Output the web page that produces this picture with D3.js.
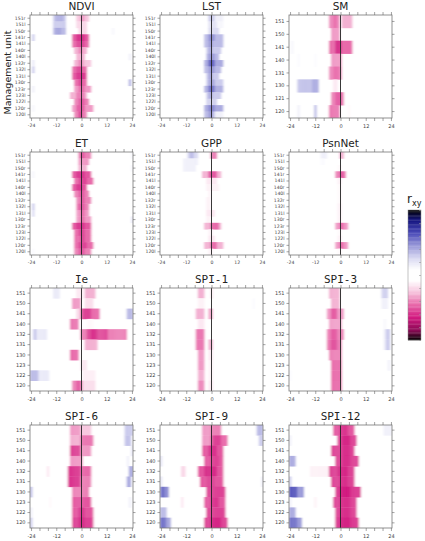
<!DOCTYPE html>
<html>
<head>
<meta charset="utf-8">
<script src="https://cdn.jsdelivr.net/npm/d3@7"></script>
<style>
  body { margin: 0; background: #fff; }
  text { font-family: "DejaVu Sans", sans-serif; }
</style>
</head>
<body>
<div id="chart"></div>
<script>
// lags in months, -24 .. 24
const lags = d3.range(-24, 25)
const lagTicks = d3.range(-24, 25, 4)
const lagLabels = [-24, -12, 0, 12, 24]

// management units (rows, top to bottom)
const unitsLR = ['151r', '151l', '150r', '141r', '141l', '140r', '140l', '132r',
  '132l', '131l', '130r', '123r', '123l', '122l', '120r', '120l']
const units = ['151', '150', '141', '140', '132', '131', '130', '123', '122', '120']
const unitsSM = ['151', '150', '141', '140', '131', '130', '121', '120']

const legendTicks = d3.range(-1, 1.01, 0.2)

// each row: list of [fromLag, toLag, r]; later segments overwrite earlier ones
const ndvi = [
  [[-13, -8, 0.3], [-12, -9, 0.38], [-2, 3, -0.25], [0, 1, -0.35]],
  [[-13, -8, 0.3], [-2, 2, -0.2]],
  [[-13, -8, 0.35], [-12, -10, 0.42], [-1, 2, -0.2], [15, 15, 0.12]],
  [[-23, -23, 0.3], [-4, 3, -0.5], [-2, 1, -0.62]],
  [[-4, 3, -0.45], [-2, 1, -0.55]],
  [[-3, 2, -0.3], [-1, 0, -0.4]],
  [[-2, 1, -0.3], [23, 23, 0.15]],
  [[-23, -23, 0.18], [-3, 4, -0.3], [2, 4, -0.25], [-1, 0, -0.4]],
  [[-23, -23, 0.3], [-4, 2, -0.45], [-2, 0, -0.55]],
  [[-4, 2, -0.5], [-2, 1, -0.6]],
  [[-3, 2, -0.45], [23, 23, 0.4], [-1, 0, -0.55]],
  [[-23, -23, 0.15], [-3, 4, -0.35], [-1, 1, -0.45]],
  [[-5, 2, -0.3], [-2, 1, -0.42]],
  [[-3, 3, -0.4], [-1, 1, -0.5]],
  [[-23, -23, 0.12], [-4, 5, -0.35], [-2, 1, -0.5]],
  [[-3, 2, -0.4], [-1, 0, -0.55]]
]

const lst = [
  [[-1, 1, 0.3], [2, 5, 0.15]],
  [[-1, 2, 0.22], [3, 5, 0.12]],
  [[-1, 3, 0.25]],
  [[-3, 5, 0.35], [-1, 1, 0.48]],
  [[-3, 5, 0.35], [-1, 0, 0.45]],
  [[-2, 4, 0.3], [-1, 0, 0.4]],
  [[-2, 3, 0.35], [-1, 1, 0.45]],
  [[-3, 5, 0.4], [-1, 1, 0.6]],
  [[-3, 4, 0.35], [-1, 1, 0.45]],
  [[-2, 3, 0.3], [-1, 0, 0.42]],
  [[-2, 5, 0.3], [-1, 1, 0.42]],
  [[-3, 5, 0.38], [-1, 1, 0.55]],
  [[-2, 4, 0.3], [-1, 0, 0.4]],
  [[-2, 2, 0.28]],
  [[-3, 5, 0.4], [-1, 1, 0.5]],
  [[-3, 1, 0.35], [-1, 0, 0.45], [2, 5, 0.15]]
]

const sm = [
  [[-5, -1, -0.38], [1, 5, -0.3], [-3, -2, -0.45]],
  [[-4, -1, -0.35]],
  [[-23, -23, 0.12], [-5, 5, -0.45], [-2, 0, -0.62]],
  [[-20, -20, 0.1], [-12, -12, 0.1], [-4, 0, -0.35]],
  [[-5, 0, -0.38], [-3, -1, -0.45]],
  [[-20, -11, 0.32], [-13, -11, 0.4], [-3, -2, -0.15]],
  [[-4, 1, -0.4], [-2, 0, -0.5]],
  [[-20, -20, 0.15], [-12, -12, 0.35], [-5, -1, -0.42], [4, 4, -0.1]]
]

const et = [
  [[-1, 4, -0.4], [0, 1, -0.5], [24, 24, 0.12]],
  [[-1, 3, -0.35]],
  [[-1, 2, -0.3], [24, 24, 0.12]],
  [[-4, 4, -0.5], [-2, 1, -0.6], [-23, -23, 0.12]],
  [[-3, 5, -0.45], [-1, 2, -0.55]],
  [[-4, 2, -0.5], [-2, 0, -0.6]],
  [[-3, 3, -0.4], [-1, 1, -0.5]],
  [[-2, 4, -0.4], [0, 1, -0.5]],
  [[-23, -23, 0.3], [-2, 3, -0.4], [-1, 1, -0.5]],
  [[-23, -23, 0.25], [-2, 3, -0.35], [0, 1, -0.45]],
  [[-2, 4, -0.35], [0, 1, -0.45], [24, 24, 0.18]],
  [[-4, 4, -0.5], [-2, 1, -0.6]],
  [[-3, 4, -0.45], [-1, 1, -0.55]],
  [[-3, 4, -0.45], [0, 1, -0.55]],
  [[-3, 5, -0.45], [-1, 2, -0.55]],
  [[-3, 4, -0.4], [-1, 1, -0.5], [-23, -23, 0.1]]
]

const gpp = [
  [[-11, -7, 0.25], [-10, -9, 0.35], [0, 2, -0.4]],
  [[-13, -7, 0.15]],
  [[-13, -8, 0.15]],
  [[-4, 4, -0.3], [-1, 2, -0.5]],
  [[-2, 2, -0.15]],
  [[-2, 3, -0.12]],
  [[-1, -1, -0.12]],
  [[-2, -1, -0.12]],
  [[-2, -1, -0.12]],
  [[-2, 1, -0.15]],
  [[-2, -1, -0.12]],
  [[-3, 4, -0.3], [0, 3, -0.45]],
  [[-1, 0, -0.12]],
  [[-1, 1, -0.15]],
  [[-3, 5, -0.3], [0, 2, -0.45]],
  [[-1, 0, -0.12]]
]

const psn = [
  [[-9, -7, 0.15], [0, 1, -0.3]],
  [[-9, -8, 0.1]],
  [[-1, 0, -0.1]],
  [[-2, 2, -0.4], [0, 1, -0.5]],
  [[-1, 0, -0.12]],
  [[-1, 0, -0.1]],
  [[-1, 0, -0.1]],
  [[-1, 0, -0.1]],
  [[-1, 0, -0.12]],
  [[-1, 0, -0.12]],
  [[-1, 0, -0.12]],
  [[-2, 3, -0.35], [0, 1, -0.45]],
  [[-1, 0, -0.1]],
  [[-1, 0, -0.12]],
  [[-2, 3, -0.35], [0, 1, -0.45]],
  [[-1, 0, -0.1]]
]

const ie = [
  [[-13, -11, 0.18], [-2, 0, -0.15], [2, 6, -0.3]],
  [[-4, -1, -0.35], [2, 5, -0.18]],
  [[-2, -1, -0.2], [0, 8, -0.45], [1, 4, -0.55], [22, 24, 0.35]],
  [[-5, -2, -0.42], [3, 5, -0.1]],
  [[-23, -17, 0.18], [-22, -22, 0.35], [0, 21, -0.4], [3, 12, -0.52], [5, 7, -0.6]],
  [[2, 7, -0.3]],
  [[-5, -2, -0.45], [24, 24, 0.1]],
  [[0, 2, -0.15], [18, 18, -0.08]],
  [[-24, -21, 0.35], [-20, -16, 0.18], [1, 6, -0.13]],
  [[-4, 0, -0.4], [-2, -1, -0.5], [1, 6, -0.18]]
]

const spi1 = [
  [[-6, -4, -0.3], [0, 0, -0.15]],
  [[-6, -4, -0.12], [20, 20, 0.1]],
  [[-7, -4, -0.3], [-1, 0, -0.32]],
  [[-6, -4, -0.15]],
  [[-7, -4, -0.42]],
  [[-7, -4, -0.42], [-1, 0, -0.3]],
  [[-6, -4, -0.35], [-1, 0, -0.15]],
  [[-6, -4, -0.35], [-1, 0, -0.12]],
  [[-6, -4, -0.3], [-1, 0, -0.12]],
  [[-6, -4, -0.38], [-1, 0, -0.15]]
]

const spi3 = [
  [[-5, -1, -0.3], [20, 22, 0.28]],
  [[-4, -1, -0.3], [20, 22, 0.15]],
  [[-6, 1, -0.35], [-4, -2, -0.5]],
  [[-5, 0, -0.33], [21, 21, 0.12]],
  [[-6, 1, -0.4], [-4, -2, -0.5], [21, 21, 0.15], [22, 23, 0.3]],
  [[-6, 0, -0.42], [-4, -2, -0.52], [21, 21, 0.15], [22, 23, 0.3]],
  [[-5, 0, -0.4]],
  [[-4, 0, -0.45], [23, 23, 0.15]],
  [[-24, -24, 0.1], [-4, 0, -0.45]],
  [[-4, 0, -0.45]]
]

const spi6 = [
  [[-5, -1, -0.35], [0, 4, -0.25], [21, 24, 0.3]],
  [[-5, -1, -0.3], [0, 5, -0.42], [21, 23, 0.32]],
  [[-5, -1, -0.55], [0, 4, -0.35], [24, 24, 0.2]],
  [[-5, 0, -0.35], [22, 22, 0.15]],
  [[-16, -16, -0.15], [-6, -1, -0.58], [0, 4, -0.45], [23, 24, 0.4]],
  [[-6, -1, -0.58], [0, 4, -0.4], [22, 23, 0.4]],
  [[-24, -24, 0.35], [-4, 3, -0.4]],
  [[-15, -15, -0.1], [-4, 4, -0.5], [23, 23, 0.15]],
  [[-24, -24, 0.15], [-4, 5, -0.5], [-1, 1, -0.58]],
  [[-24, -24, 0.3], [-4, 5, -0.55], [-1, 1, -0.62]]
]

const spi9 = [
  [[-4, -1, -0.35], [0, 4, -0.4], [22, 24, 0.35]],
  [[-4, -1, -0.35], [0, 7, -0.45], [1, 4, -0.55], [23, 24, 0.3]],
  [[-4, 5, -0.5], [-1, 2, -0.6]],
  [[-24, -24, 0.2], [-3, 5, -0.5], [0, 3, -0.55]],
  [[-14, -13, -0.2], [-6, 5, -0.5], [-3, 2, -0.62]],
  [[-24, -24, 0.2], [-5, 5, -0.5], [24, 24, 0.15], [-2, 1, -0.55]],
  [[-24, -21, 0.5], [-23, -23, 0.6], [-2, 6, -0.55]],
  [[-14, -14, -0.15], [-3, 6, -0.5], [0, 3, -0.58]],
  [[-24, -22, 0.35], [-2, 6, -0.55]],
  [[-24, -20, 0.42], [-24, -22, 0.55], [-3, 7, -0.55], [0, 4, -0.62]]
]

const spi12 = [
  [[-3, 6, -0.5], [0, 3, -0.58], [21, 24, 0.15]],
  [[-24, -24, 0.15], [-1, 7, -0.55], [1, 4, -0.62]],
  [[-4, 6, -0.55], [1, 4, -0.6]],
  [[-24, -22, 0.4], [-2, 8, -0.55], [1, 4, -0.6]],
  [[-14, -6, -0.12], [-5, 6, -0.55], [-1, 3, -0.62]],
  [[-24, -24, 0.3], [-4, 6, -0.55], [0, 3, -0.6]],
  [[-24, -18, 0.45], [-24, -21, 0.62], [-2, 9, -0.58], [0, 4, -0.65]],
  [[-24, -24, 0.15], [-12, -12, -0.12], [-3, 7, -0.55], [0, 4, -0.6]],
  [[-24, -22, 0.4], [-2, 7, -0.55], [0, 4, -0.6]],
  [[-24, -19, 0.45], [-24, -21, 0.55], [-2, 8, -0.58], [0, 4, -0.63]]
]

const panels = [
  { title: 'NDVI', rows: unitsLR, data: ndvi },
  { title: 'LST', rows: unitsLR, data: lst },
  { title: 'SM', rows: unitsSM, data: sm },
  { title: 'ET', rows: unitsLR, data: et },
  { title: 'GPP', rows: unitsLR, data: gpp },
  { title: 'PsnNet', rows: unitsLR, data: psn },
  { title: 'Ie', rows: units, data: ie, mono: true },
  { title: 'SPI-1', rows: units, data: spi1, mono: true },
  { title: 'SPI-3', rows: units, data: spi3, mono: true },
  { title: 'SPI-6', rows: units, data: spi6, mono: true },
  { title: 'SPI-9', rows: units, data: spi9, mono: true },
  { title: 'SPI-12', rows: units, data: spi12, mono: true }
]

const W = 425
const H = 541
const colX = [30, 160, 289]
const rowY = [15, 152, 288, 425]
const pw = 103
const ph = 103

// cell colour: magenta for negative r, blue for positive r
const color = d3.scaleLinear()
  .domain([-1, -0.85, -0.65, -0.45, -0.25, -0.08, 0.08, 0.25, 0.45, 0.65, 0.85, 1])
  .range(['#000000', '#8a0a55', '#d21a80', '#e86aaa', '#f7c8df', '#ffffff',
    '#ffffff', '#dcdcf3', '#9a9ad9', '#4a4ab8', '#14147e', '#000000'])
  .clamp(true)

const svg = d3.select('#chart')
  .append('svg')
  .attr('width', W)
  .attr('height', H)

// soften the cell edges a little, as in the original raster
const defs = svg.append('defs')
defs.append('filter')
  .attr('id', 'soft')
  .attr('x', 0).attr('y', 0).attr('width', 1).attr('height', 1)
  .append('feGaussianBlur')
  .attr('stdDeviation', '0.8 0.25')
defs.append('clipPath')
  .attr('id', 'panelClip')
  .append('rect')
  .attr('width', pw).attr('height', ph)

const xScale = d3.scaleLinear().domain([-24.5, 24.5]).range([0, pw])

panels.forEach((p, i) => {
  const g = svg.append('g')
    .attr('transform', 'translate(' + colX[i % 3] + ',' + rowY[Math.floor(i / 3)] + ')')

  const yScale = d3.scaleBand().domain(p.rows).range([0, ph])

  // expand segments into cells
  const cells = []
  p.data.forEach((segs, r) => {
    const vals = {}
    segs.forEach(s => {
      for (let l = s[0]; l <= s[1]; l++) vals[l] = s[2]
    })
    lags.forEach(l => {
      if (vals[l] !== undefined) cells.push({ row: p.rows[r], lag: l, r: vals[l] })
    })
  })

  const cg = g.append('g')
    .attr('clip-path', 'url(#panelClip)')
    .append('g')
    .attr('filter', 'url(#soft)')

  cg.append('rect')
    .attr('width', pw).attr('height', ph)
    .attr('fill', '#fff')

  cg.selectAll('.cell')
    .data(cells)
    .enter()
    .append('rect')
    .attr('class', 'cell')
    .attr('x', d => xScale(d.lag - 0.5))
    .attr('width', xScale(1) - xScale(0) + 0.3)
    .attr('y', d => yScale(d.row))
    .attr('height', yScale.bandwidth() + 0.3)
    .attr('fill', d => color(d.r))

  // zero lag line
  g.append('line')
    .attr('x1', xScale(0)).attr('x2', xScale(0))
    .attr('y1', 0).attr('y2', ph)
    .attr('stroke', '#222')
    .attr('stroke-width', 0.9)

  g.append('rect')
    .attr('width', pw).attr('height', ph)
    .attr('fill', 'none')
    .attr('stroke', '#777')
    .attr('stroke-width', 0.8)

  const fs = p.rows.length > 10 ? 4.6 : 5

  const xBottom = d3.axisBottom(xScale).tickValues(lagTicks).tickSize(3)
    .tickFormat(d => lagLabels.includes(d) ? d : '')
  const xTop = d3.axisTop(xScale).tickValues(lagTicks).tickSize(3).tickFormat('')
  const yLeft = d3.axisLeft(yScale).tickSize(2.5).tickPadding(2)
  const yRight = d3.axisRight(yScale).tickSize(2.5).tickFormat('')

  g.append('g').attr('class', 'axis').attr('transform', 'translate(0,' + ph + ')').call(xBottom)
  g.append('g').attr('class', 'axis').call(xTop)
  g.append('g').attr('class', 'axis').call(yLeft)
  g.append('g').attr('class', 'axis').attr('transform', 'translate(' + pw + ',0)').call(yRight)

  g.selectAll('.axis .domain').remove()
  g.selectAll('.axis line').attr('stroke', '#666').attr('stroke-width', 0.6)
  g.selectAll('.axis text')
    .attr('font-size', fs)
    .attr('fill', '#444')
    .style('font-family', '"DejaVu Sans", sans-serif')

  g.append('text')
    .attr('x', pw / 2)
    .attr('y', -5)
    .attr('text-anchor', 'middle')
    .attr('font-size', p.mono ? 11 : 10.5)
    .attr('fill', '#222')
    .style('font-family', p.mono ? '"DejaVu Sans Mono", monospace' : '"DejaVu Sans", sans-serif')
    .text(p.title)
})

svg.append('text')
  .attr('transform', 'translate(11,' + (rowY[0] + ph / 2 + 6) + ') rotate(-90)')
  .attr('text-anchor', 'middle')
  .attr('font-size', 9.5)
  .attr('fill', '#222')
  .text('Management unit')

// colour legend
const lx = 408
const lw = 13
const legendScale = d3.scaleLinear().domain([-1, 1]).range([340, 210])
const steps = d3.range(-1, 1, 0.02)

svg.selectAll('.leg')
  .data(steps)
  .enter()
  .append('rect')
  .attr('class', 'leg')
  .attr('x', lx)
  .attr('width', lw)
  .attr('y', d => legendScale(d + 0.02))
  .attr('height', legendScale(0) - legendScale(0.02) + 0.3)
  .attr('fill', d => color(d + 0.01))

svg.append('g')
  .attr('transform', 'translate(' + (lx + lw) + ',0)')
  .call(d3.axisLeft(legendScale).tickValues(legendTicks).tickSize(2).tickFormat(''))
  .call(g => g.select('.domain').remove())
  .selectAll('line').attr('stroke', '#999').attr('stroke-width', 0.6)

svg.append('rect')
  .attr('x', lx).attr('y', 210).attr('width', lw).attr('height', 130)
  .attr('fill', 'none').attr('stroke', '#888').attr('stroke-width', 0.5)

const rl = svg.append('text')
  .attr('x', lx - 1)
  .attr('y', 203)
  .attr('font-size', 12)
  .attr('fill', '#222')
rl.append('tspan').text('r')
rl.append('tspan').attr('font-size', 8).attr('dy', 3).text('xy')
</script>
</body>
</html>
